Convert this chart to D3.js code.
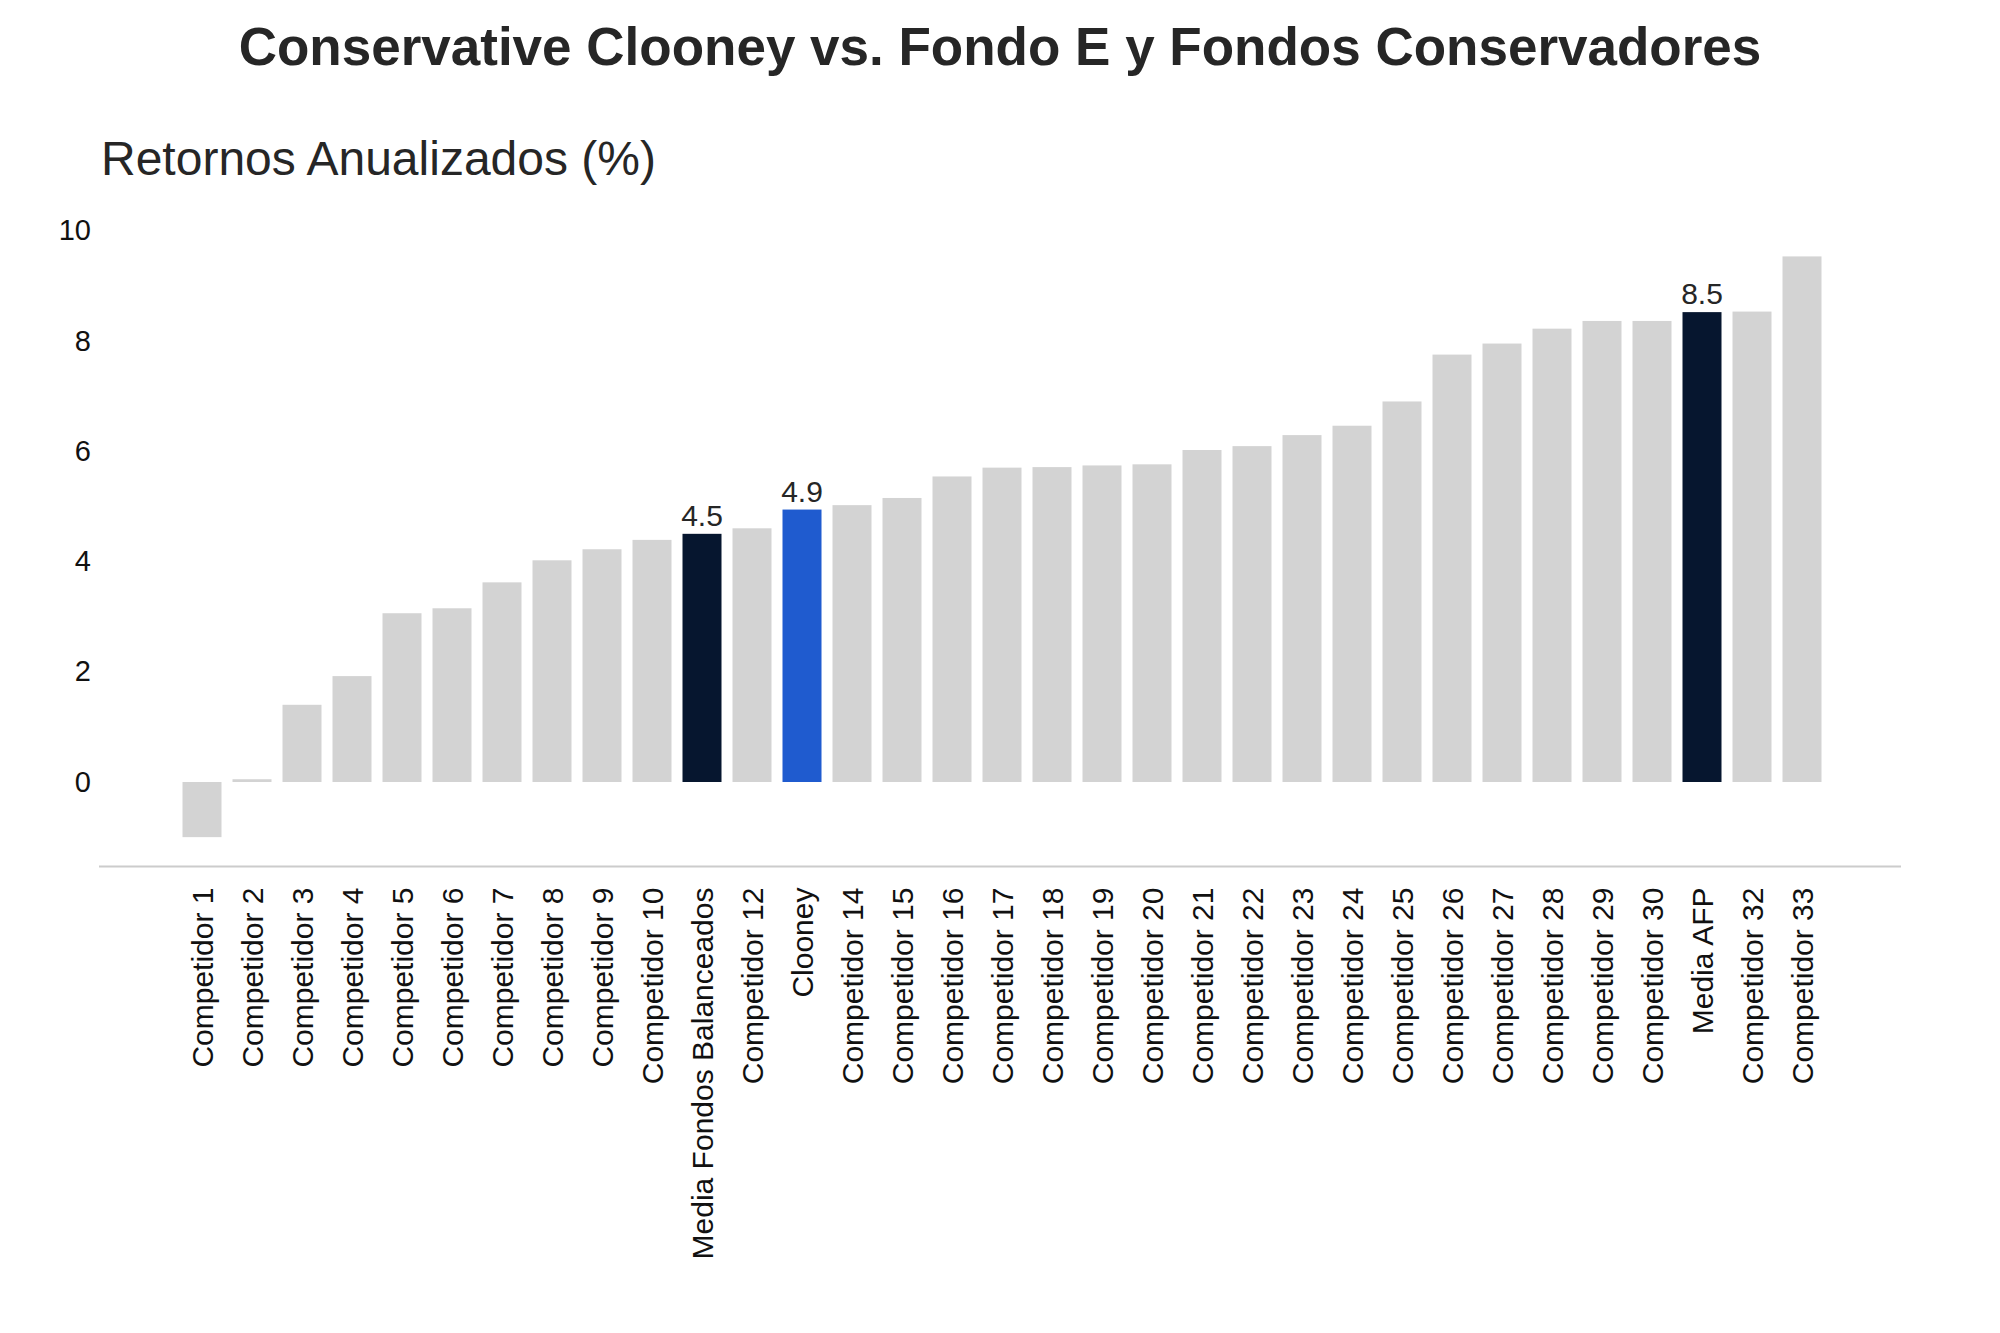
<!DOCTYPE html>
<html>
<head>
<meta charset="utf-8">
<script src="https://cdn.jsdelivr.net/npm/d3@7"></script>
<style>
  body { margin: 0; background: #fff; }
  text { font-family: "Liberation Sans", Arial, sans-serif; }
</style>
</head>
<body>
<div id="chart"></div>
<script>
const funds = [
    "Competidor 1", "Competidor 2", "Competidor 3", "Competidor 4", "Competidor 5",
    "Competidor 6", "Competidor 7", "Competidor 8", "Competidor 9", "Competidor 10",
    "Media Fondos Balanceados", "Competidor 12", "Clooney", "Competidor 14", "Competidor 15",
    "Competidor 16", "Competidor 17", "Competidor 18", "Competidor 19", "Competidor 20",
    "Competidor 21", "Competidor 22", "Competidor 23", "Competidor 24", "Competidor 25",
    "Competidor 26", "Competidor 27", "Competidor 28", "Competidor 29", "Competidor 30",
    "Media AFP", "Competidor 32", "Competidor 33"
];
const returns = [
    -1.0, 0.05, 1.40, 1.92, 3.06,
    3.15, 3.62, 4.02, 4.22, 4.39,
    4.50, 4.60, 4.94, 5.02, 5.15,
    5.54, 5.70, 5.71, 5.74, 5.76,
    6.02, 6.09, 6.29, 6.46, 6.90,
    7.75, 7.95, 8.22, 8.36, 8.36,
    8.52, 8.53, 9.53
];
const yTicks = [0, 2, 4, 6, 8, 10];
const averages = ["Media Fondos Balanceados", "Media AFP"];
const ours = "Clooney";

const data = funds.map((name, i) => ({ name, value: returns[i] }));

const width = 2000;
const height = 1333;

const svg = d3.select("#chart")
    .append("svg")
    .attr("width", width)
    .attr("height", height);

const x = d3.scaleBand()
    .domain(funds)
    .range([177, 1827])
    .paddingInner(0.22)
    .paddingOuter(0.11);

const y = d3.scaleLinear()
    .domain([0, 10])
    .range([782, 230.5]);

function barColor(d) {
    if (d.name === ours) return "#1f5bcf";
    if (averages.includes(d.name)) return "#06162f";
    return "#d3d3d3";
}

svg.selectAll("rect.bar")
    .data(data)
    .enter()
    .append("rect")
    .attr("class", "bar")
    .attr("x", d => x(d.name))
    .attr("width", x.bandwidth())
    .attr("y", d => y(Math.max(0, d.value)))
    .attr("height", d => Math.abs(y(d.value) - y(0)))
    .attr("fill", barColor);

// value labels on highlighted bars only
svg.selectAll("text.val")
    .data(data.filter(d => d.name === ours || averages.includes(d.name)))
    .enter()
    .append("text")
    .attr("class", "val")
    .attr("x", d => x(d.name) + x.bandwidth() / 2)
    .attr("y", d => y(d.value) - 8)
    .attr("text-anchor", "middle")
    .style("font-size", "30px")
    .style("fill", "#262626")
    .text(d => d3.format(".1f")(Math.floor(d.value * 10) / 10));

// y axis
const yAxis = svg.append("g")
    .attr("transform", "translate(100,0)")
    .call(d3.axisLeft(y).tickValues(yTicks).tickSize(0).tickPadding(9).tickFormat(d3.format("d")));
yAxis.select(".domain").remove();
yAxis.selectAll("text")
    .style("font-size", "29px")
    .style("fill", "#111")
    .style("font-family", "'Liberation Sans', Arial, sans-serif");

// x axis
const xAxis = svg.append("g")
    .attr("transform", "translate(0,866.5)")
    .call(d3.axisBottom(x).tickSize(0));
xAxis.select(".domain").remove();
xAxis.selectAll("text")
    .attr("transform", "rotate(-90)")
    .attr("x", -21)
    .attr("y", 0)
    .attr("dy", "0.35em")
    .attr("text-anchor", "end")
    .style("font-size", "30px")
    .style("fill", "#111")
    .style("font-family", "'Liberation Sans', Arial, sans-serif");

svg.append("line")
    .attr("x1", 99)
    .attr("x2", 1901)
    .attr("y1", 866.5)
    .attr("y2", 866.5)
    .attr("stroke", "#cccccc")
    .attr("stroke-width", 2);

svg.append("text")
    .attr("x", width / 2)
    .attr("y", 65)
    .attr("text-anchor", "middle")
    .style("font-size", "53px")
    .style("font-weight", "bold")
    .style("fill", "#262626")
    .text("Conservative Clooney vs. Fondo E y Fondos Conservadores");

svg.append("text")
    .attr("x", 101)
    .attr("y", 175)
    .style("font-size", "48px")
    .style("fill", "#262626")
    .text("Retornos Anualizados (%)");
</script>
</body>
</html>
